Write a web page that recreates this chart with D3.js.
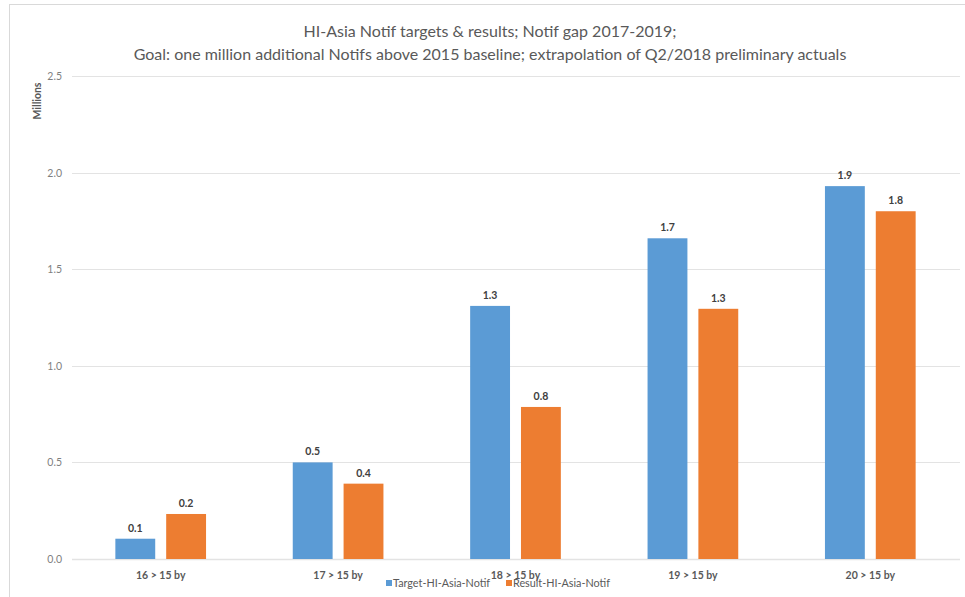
<!DOCTYPE html>
<html>
<head>
<meta charset="utf-8">
<script src="https://cdn.jsdelivr.net/npm/d3@7"></script>
<style>
  body { margin: 0; background: #fff; }
  text { font-family: Lato, "Open Sans", sans-serif; }
</style>
</head>
<body>
<svg width="965" height="597"></svg>
<script>
var categories = ["16 > 15 by", "17 > 15 by", "18 > 15 by", "19 > 15 by", "20 > 15 by"];
var seriesNames = ["Target-HI-Asia-Notif", "Result-HI-Asia-Notif"];
var targetValues = [0.105, 0.50, 1.31, 1.66, 1.93];
var resultValues = [0.233, 0.39, 0.787, 1.295, 1.80];
var yTicks = [0, 0.5, 1.0, 1.5, 2.0, 2.5];
var titleLines = ["HI-Asia Notif targets & results; Notif gap 2017-2019;",
  "Goal: one million additional Notifs above 2015 baseline; extrapolation of Q2/2018 preliminary actuals"];

var colors = ["#5B9BD5", "#ED7D31"];

var svg = d3.select("svg"),
    width = +svg.attr("width"),
    height = +svg.attr("height");

// chart frame
svg.append("rect")
    .attr("x", 9.5).attr("y", 4.5)
    .attr("width", 970).attr("height", 600)
    .attr("fill", "none")
    .attr("stroke", "#d9d9d9");

var x0 = d3.scaleBand().domain(categories).range([72, 959]);
var x1 = d3.scaleBand().domain(seriesNames).range([0, x0.bandwidth()])
    .paddingInner(0.2157).paddingOuter(0.853);
var y = d3.scaleLinear().domain([0, 2.5]).range([559, 76]);

// gridlines
svg.append("g").selectAll("line")
    .data(yTicks)
    .enter().append("line")
    .attr("x1", 72).attr("x2", 960)
    .attr("y1", d => Math.round(y(d)) + 0.5)
    .attr("y2", d => Math.round(y(d)) + 0.5)
    .attr("stroke", "#e3e3e3")
    .attr("stroke-width", d => d === 0 ? 1.5 : 1);

// y tick labels
svg.append("g").selectAll("text")
    .data(yTicks)
    .enter().append("text")
    .attr("x", 62)
    .attr("y", d => y(d) + 4)
    .attr("text-anchor", "end")
    .attr("font-size", "10.5px")
    .attr("fill", "#7f7f7f")
    .text(d => d.toFixed(1));

svg.append("text")
    .attr("transform", "translate(41,101) rotate(-90)")
    .attr("text-anchor", "middle")
    .attr("font-size", "10.5px")
    .attr("font-weight", "bold")
    .attr("fill", "#595959")
    .text("Millions");

var data = categories.map((c, i) => ({cat: c, vals: [targetValues[i], resultValues[i]]}));

var groups = svg.append("g").selectAll("g")
    .data(data)
    .enter().append("g")
    .attr("transform", d => "translate(" + x0(d.cat) + ",0)");

var bars = groups.selectAll("g")
    .data(d => d.vals.map((v, j) => ({name: seriesNames[j], v: v, j: j})))
    .enter().append("g");

bars.append("rect")
    .attr("x", d => x1(d.name))
    .attr("y", d => y(d.v))
    .attr("width", x1.bandwidth())
    .attr("height", d => y(0) - y(d.v))
    .attr("fill", d => colors[d.j]);

bars.append("text")
    .attr("x", d => x1(d.name) + x1.bandwidth() / 2)
    .attr("y", d => y(d.v) - 7)
    .attr("text-anchor", "middle")
    .attr("font-size", "10.5px")
    .attr("font-weight", "bold")
    .attr("fill", "#404040")
    .text(d => d.v.toFixed(1));

// x labels
svg.append("g").selectAll("text")
    .data(categories)
    .enter().append("text")
    .attr("x", d => x0(d) + x0.bandwidth() / 2)
    .attr("y", 579)
    .attr("text-anchor", "middle")
    .attr("font-size", "10.5px")
    .attr("font-weight", "bold")
    .attr("fill", "#595959")
    .text(d => d);

// title
svg.append("g").selectAll("text")
    .data(titleLines)
    .enter().append("text")
    .attr("x", 490)
    .attr("y", (d, i) => 37 + i * 23)
    .attr("text-anchor", "middle")
    .attr("font-size", "16px")
    .attr("fill", "#595959")
    .text(d => d);

// legend
var legX = [386, 506];
var leg = svg.append("g").selectAll("g")
    .data(seriesNames)
    .enter().append("g")
    .attr("transform", (d, i) => "translate(" + legX[i] + ",580)");
leg.append("rect")
    .attr("width", 6).attr("height", 6)
    .attr("fill", (d, i) => colors[i]);
leg.append("text")
    .attr("x", 7).attr("y", 7)
    .attr("font-size", "10.8px")
    .attr("fill", "#595959")
    .text(d => d);
</script>
</body>
</html>
